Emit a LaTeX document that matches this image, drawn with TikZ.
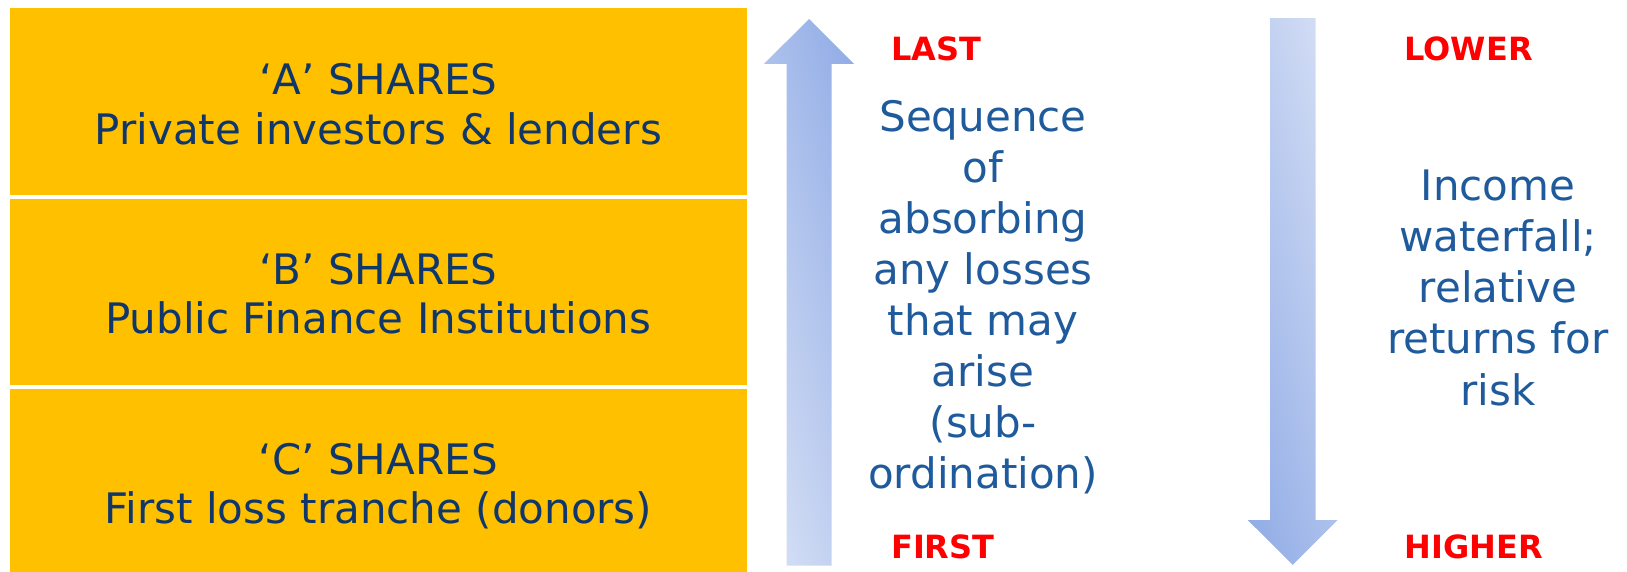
\documentclass[tikz,border=0pt]{standalone}
\usepackage{fontspec}
\setmainfont{DejaVu Sans}
\definecolor{tranche}{HTML}{FFC000}
\definecolor{navy}{HTML}{0F376B}
\definecolor{midblue}{HTML}{1F5B9C}
\definecolor{arrdark}{HTML}{8EAAE5}
\definecolor{arrlight}{HTML}{D9E2F6}
\definecolor{lblred}{HTML}{FF0000}
\tikzset{
  tranchebox/.style={fill=tranche, draw=none, inner sep=0pt},
  boxtext/.style={anchor=base, inner sep=0pt, text=navy, font=\fontsize{42}{49.2}\selectfont},
  sidetext/.style={anchor=base, inner sep=0pt, text=midblue, font=\fontsize{42}{51.1}\selectfont},
  redlbl/.style={anchor=base west, inner sep=0pt, text=lblred, font=\fontsize{32}{38}\selectfont\bfseries},
}
\begin{document}
\begin{tikzpicture}[x=1pt,y=-1pt]
\useasboundingbox (0,0) rectangle (1627,572);
% tranche boxes
\node[tranchebox, minimum width=737.3pt, minimum height=187.2pt] (boxA) at (378.35,101.6) {};
\node[tranchebox, minimum width=737.3pt, minimum height=186.1pt] (boxB) at (378.35,291.85) {};
\node[tranchebox, minimum width=737.3pt, minimum height=182.7pt] (boxC) at (378.35,480.65) {};
\node[boxtext] (tA) at (378.35,94.9) {\begin{tabular}[t]{@{}c@{}}‘A’ SHARES\\Private investors \& lenders\end{tabular}};
\node[boxtext] (tB) at (378.35,284.6) {\begin{tabular}[t]{@{}c@{}}‘B’ SHARES\\Public Finance Institutions\end{tabular}};
\node[boxtext] (tC) at (378.35,474.3) {\begin{tabular}[t]{@{}c@{}}‘C’ SHARES\\First loss tranche (donors)\end{tabular}};
% up arrow (gradient: light bottom-left, dark top-right)
\begin{scope}
  \clip (786.7,565.5) -- (786.7,63.8) -- (764,63.8) -- (809.2,19) -- (854,63.8) -- (831.7,63.8) -- (831.7,565.5) -- cycle;
  \begin{scope}[transform canvas={rotate around={15.3:(809,292.25)}}]
    \shade[left color=arrlight, right color=arrdark] (693.5,-120) rectangle (924.5,705);
  \end{scope}
\end{scope}
% down arrow (gradient: light top-right, dark bottom-left)
\begin{scope}
  \clip (1270,18.2) -- (1315.7,18.2) -- (1315.7,520) -- (1337.7,520) -- (1292.7,564.8) -- (1247.7,520) -- (1270,520) -- cycle;
  \begin{scope}[transform canvas={rotate around={15.3:(1292.7,291.5)}}]
    \shade[left color=arrdark, right color=arrlight] (1177.2,-120) rectangle (1408.2,705);
  \end{scope}
\end{scope}
% labels
\node[redlbl] (last) at (891,60.2) {LAST};
\node[redlbl] (first) at (891,558) {FIRST};
\node[redlbl] (lower) at (1404.3,60.2) {LOWER};
\node[redlbl] (higher) at (1404.3,558) {HIGHER};
% side texts
\node[sidetext] (seq) at (983,131.3) {\begin{tabular}[t]{@{}c@{}}Sequence\\of\\absorbing\\any losses\\that may\\arise\\(sub-\\ordination)\end{tabular}};
\node[sidetext] (inc) at (1498,200.7) {\begin{tabular}[t]{@{}c@{}}Income\\waterfall;\\relative\\returns for\\risk\end{tabular}};
\end{tikzpicture}
\end{document}
